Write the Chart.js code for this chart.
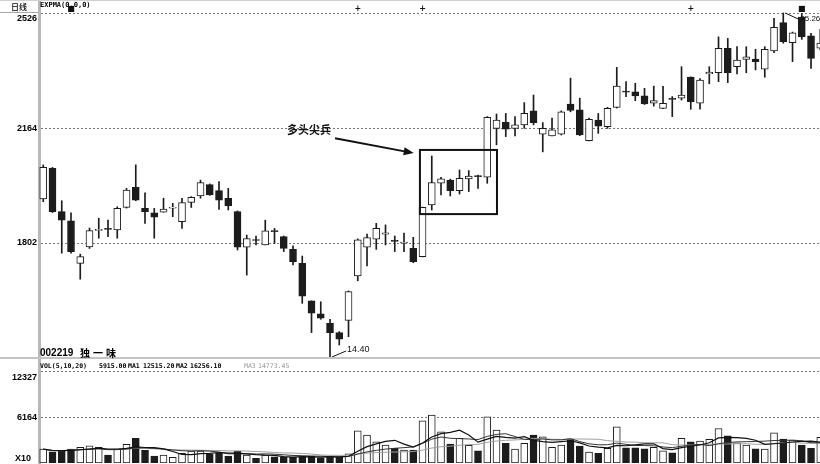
<!DOCTYPE html>
<html><head><meta charset="utf-8">
<script src="https://cdn.jsdelivr.net/npm/chart.js@4.4.1/dist/chart.umd.min.js"></script>
<style>
html,body{margin:0;padding:0;background:#fff;}
#wrap{position:relative;width:820px;height:464px;overflow:hidden;background:#fff;}
canvas{position:absolute;left:0;}
.t{position:absolute;white-space:nowrap;color:#000;line-height:1;}
.v{position:absolute;white-space:nowrap;color:#000;line-height:1;top:362px;font:bold 6.5px 'DejaVu Sans Mono';}
.ln{position:absolute;}
</style></head><body>
<div id="wrap">
<canvas id="price" width="820" height="358" style="top:0"></canvas>
<canvas id="vol" width="820" height="106" style="top:358px"></canvas>
<div class="ln" style="left:0;top:0;width:820px;height:1px;background:#d0d0d0"></div>
<div class="ln" style="left:0;top:12px;width:38px;height:1px;background:#a8a8a8"></div>
<div class="ln" style="left:0;top:357px;width:820px;height:2px;background:#c4c4c4"></div>
<div class="t" style="left:11px;top:1px;font:500 8px 'Noto Sans CJK SC'">日线</div>
<div class="t" style="left:40px;top:1px;font:bold 7px 'DejaVu Sans Mono'">EXPMA(0,0,0)</div>
<div class="t" style="left:40px;top:347px;font:bold 10px 'Liberation Sans'">002219</div>
<div class="t" style="left:80px;top:345px;font:bold 10px 'Noto Sans CJK SC';letter-spacing:3px">独一味</div>
<div class="v" style="left:40px">VOL(5,10,20)</div>
<div class="v" style="left:99px">5915.00</div>
<div class="v" style="left:128px">MA1</div>
<div class="v" style="left:143px">12515.20</div>
<div class="v" style="left:176px">MA2</div>
<div class="v" style="left:190px">16256.10</div>
<div class="v" style="left:244px;font-weight:normal;color:#999">MA3</div>
<div class="v" style="left:258px;font-weight:normal;color:#999">14773.45</div>
<div class="t" style="left:15px;top:453px;font:bold 9px 'Liberation Sans'">X10</div>
</div>
<script>
// ---- data (price in 1/100 units as on the axis) ----
const open = [1941,2037,1901,1872,1738,1790,1842,1848,1843,1914,
1977,1911,1897,1899,1912,1869,1930,1950,1986,1967,
1943,1901,1789,1813,1796,1841,1822,1782,1738,1620,
1579,1549,1520,1558,1698,1789,1814,1830,1810,1802,
1785,1759,1922,1990,2000,1967,2004,2014,2009,2163,
2182,2163,2174,2218,2145,2139,2145,2239,2221,2124,
2189,2168,2229,2279,2278,2265,2242,2226,2257,2258,
2324,2242,2334,2338,2415,2357,2380,2381,2349,2407,
2496,2433,2513,2454,2415];
const high = [2048,2040,1935,1897,1767,1849,1880,1874,1916,1974,
2048,1960,1911,1943,1927,1943,1948,2000,1988,1995,
1974,1903,1827,1824,1874,1848,1824,1793,1761,1620,
1617,1562,1523,1651,1815,1830,1864,1859,1824,1833,
1820,1915,2076,2009,2003,2032,2030,2016,2200,2208,
2210,2200,2244,2268,2181,2195,2218,2321,2258,2195,
2210,2229,2355,2310,2305,2289,2296,2295,2263,2357,
2325,2320,2357,2451,2446,2420,2420,2412,2420,2509,
2526,2466,2524,2462,2475];
const low = [1932,1898,1770,1770,1688,1785,1817,1822,1817,1912,
1935,1864,1817,1899,1885,1848,1914,1943,1952,1908,
1906,1780,1701,1796,1796,1801,1775,1733,1612,1520,
1562,1440,1481,1507,1683,1730,1782,1796,1775,1775,
1740,1758,1906,1953,1950,1956,1964,1974,1990,2111,
2137,2139,2163,2174,2089,2139,2142,2215,2140,2123,
2147,2163,2227,2263,2250,2238,2233,2225,2200,2252,
2223,2223,2303,2310,2307,2334,2338,2347,2324,2401,
2431,2373,2443,2352,2410];
const close = [2040,1901,1874,1775,1759,1841,1845,1845,1911,1969,
1937,1901,1883,1909,1914,1929,1946,1992,1953,1937,
1919,1789,1816,1810,1840,1838,1785,1743,1635,1581,
1565,1520,1499,1649,1812,1819,1848,1834,1807,1804,
1743,1914,1992,2004,1967,2006,2013,2011,2198,2189,
2160,2174,2210,2181,2163,2158,2215,2219,2142,2191,
2170,2226,2296,2277,2265,2240,2250,2242,2254,2268,
2247,2315,2340,2415,2338,2378,2388,2373,2412,2481,
2436,2464,2451,2383,2431];
// volume (x10)
const volume = [1879,1514,1609,1879,2109,2325,2109,1068,1879,2515,
3326,1704,933,1068,757,1298,1609,1609,1203,1379,
933,1609,1068,622,1068,838,757,757,838,933,
703,933,757,1244,4353,3772,2866,2420,1974,1744,
1744,5705,6476,4218,2555,3326,2380,1649,6246,4448,
2650,1879,2650,3772,3542,2109,2420,3231,2285,1474,
1298,1974,4894,2055,2055,1920,2109,1649,1379,3326,
2866,2961,3191,4678,3677,2731,2420,1920,1879,4083,
3231,3096,2420,1974,3461];
const priceTicks = [2526, 2164, 1802];
const priceTickLabels = ['2526', '2164', '1802'];
const volTicks = [12327, 6164];
const volTickLabels = ['12327', '6164'];
const maPeriods = [5, 10, 20];
const markIdx = [4, 35, 42, 71, 83];
const markSym = ['■', '+', '+', '+', '■'];

const days = open.map((_, i) => i + 1);
const isUp = close.map((c, i) => c >= open[i]);
function movingAvg(arr, n) {
  return arr.map((_, i) => {
    const s = arr.slice(Math.max(0, i - n + 1), i + 1);
    return s.reduce((a, b) => a + b, 0) / s.length;
  });
}

const DARK = '#1c1c1c';
const X_MIN = 0.54, X_MAX = 84.97;
const tickFont = {family: 'Liberation Sans', size: 9, weight: 'bold'};

const common = {
  responsive: false, animation: false, devicePixelRatio: 1, events: [],
  layout: {padding: 0},
  plugins: {legend: {display: false}, tooltip: {enabled: false}}
};
function fitY(s) { s.width = 39; s.paddingTop = 0; s.paddingBottom = 0; }

const annot = {
  id: 'annot',
  afterDatasetsDraw(chart) {
    const {ctx, scales: {x, y}} = chart;
    ctx.save();
    // box around the pattern
    const bx1 = x.getPixelForValue(41.72), bx2 = x.getPixelForValue(50.05);
    const by1 = y.getPixelForValue(2095), by2 = y.getPixelForValue(1893);
    ctx.strokeStyle = '#111'; ctx.lineWidth = 2;
    ctx.strokeRect(bx1, by1, bx2 - bx1, by2 - by1);
    // arrow
    const ax1 = x.getPixelForValue(32.54), ay1 = y.getPixelForValue(2132);
    const ax2 = x.getPixelForValue(41.05), ay2 = y.getPixelForValue(2085);
    const ang = Math.atan2(ay2 - ay1, ax2 - ax1);
    ctx.beginPath(); ctx.moveTo(ax1, ay1);
    ctx.lineTo(ax2 - 8 * Math.cos(ang), ay2 - 8 * Math.sin(ang)); ctx.stroke();
    ctx.fillStyle = '#111';
    ctx.beginPath(); ctx.moveTo(ax2, ay2);
    ctx.lineTo(ax2 - 10 * Math.cos(ang) + 4 * Math.sin(ang), ay2 - 10 * Math.sin(ang) - 4 * Math.cos(ang));
    ctx.lineTo(ax2 - 10 * Math.cos(ang) - 4 * Math.sin(ang), ay2 - 10 * Math.sin(ang) + 4 * Math.cos(ang));
    ctx.closePath(); ctx.fill();
    // label
    ctx.font = "bold 11px 'Noto Sans CJK SC'";
    ctx.textAlign = 'right'; ctx.textBaseline = 'middle';
    ctx.fillText('多头尖兵', x.getPixelForValue(32.1), y.getPixelForValue(2158));
    // low / high labels
    ctx.lineWidth = 1;
    const li = low.indexOf(Math.min(...low));
    const lx = x.getPixelForValue(days[li]), ly = y.getPixelForValue(low[li]);
    ctx.beginPath(); ctx.moveTo(lx + 2, ly - 1); ctx.lineTo(lx + 16, ly - 7); ctx.stroke();
    ctx.font = "9px 'Liberation Sans'"; ctx.textAlign = 'left';
    ctx.fillText((low[li] / 100).toFixed(2), lx + 17, ly - 8);
    const hi = high.indexOf(Math.max(...high));
    const hx = x.getPixelForValue(days[hi]), hy = y.getPixelForValue(high[hi]);
    ctx.beginPath(); ctx.moveTo(hx + 2, hy); ctx.lineTo(hx + 15, hy + 6); ctx.stroke();
    ctx.font = "8px 'Liberation Sans'";
    ctx.fillText((high[hi] / 100).toFixed(2), hx + 17, hy + 6);
    // signal marks on top
    ctx.font = "bold 8px 'DejaVu Sans'"; ctx.textAlign = 'center';
    markIdx.forEach((d, k) => ctx.fillText(markSym[k], x.getPixelForValue(d), 9));
    ctx.restore();
  }
};

new Chart(document.getElementById('price'), {
  type: 'bar',
  data: {
    datasets: [
      {type: 'bar', data: days.map((d, i) => ({x: d, y: [open[i], close[i]]})),
       backgroundColor: isUp.map(u => u ? '#ffffff' : DARK), borderColor: DARK, borderWidth: 1,
       borderSkipped: false, barThickness: 7, minBarLength: 1, grouped: false, order: 0},
      {type: 'bar', data: days.map((d, i) => ({x: d, y: [low[i], high[i]]})),
       backgroundColor: DARK, borderWidth: 0, barThickness: 1, grouped: false, order: 1}
    ]
  },
  options: Object.assign({}, common, {
    scales: {
      x: {type: 'linear', display: false, min: X_MIN, max: X_MAX, offset: false},
      y: {type: 'linear', min: 1440, max: 2567, beginAtZero: false,
          afterFit: fitY,
          afterBuildTicks(s) { s.ticks = priceTicks.map(v => ({value: v})); },
          ticks: {callback: (v, i) => i === 0 ? ['', priceTickLabels[0]] : priceTickLabels[i],
                  font: tickFont, color: '#000', padding: 2, autoSkip: false},
          grid: {color: '#777', lineWidth: 1, drawTicks: false},
          border: {display: true, color: '#b8b8b8', width: 3, dash: [2, 2]}}
    }
  }),
  plugins: [annot]
});

const maColors = ['#111', '#333', '#a0a0a0'];
const maWidths = [1.2, 1, 1];
new Chart(document.getElementById('vol'), {
  type: 'bar',
  data: {
    datasets: [
      {type: 'bar', data: days.map((d, i) => ({x: d, y: volume[i]})),
       backgroundColor: isUp.map(u => u ? '#ffffff' : DARK), borderColor: DARK, borderWidth: 1,
       borderSkipped: false, barThickness: 7, grouped: false, order: 1}
    ].concat(maPeriods.map((p, k) => ({
       type: 'line', data: movingAvg(volume, p).map((m, i) => ({x: days[i], y: m})),
       borderColor: maColors[k], borderWidth: maWidths[k], pointRadius: 0, tension: 0, order: 0})))
  },
  options: Object.assign({}, common, {
    layout: {padding: {bottom: 1}},
    scales: {
      x: {type: 'linear', display: false, min: X_MIN, max: X_MAX, offset: false},
      y: {type: 'linear', min: 0, max: 14223, beginAtZero: true,
          afterFit: fitY,
          afterBuildTicks(s) { s.ticks = volTicks.map(v => ({value: v})); },
          ticks: {callback: (v, i) => i === 0 ? ['', volTickLabels[0]] : volTickLabels[i],
                  font: tickFont, color: '#000', padding: 2, autoSkip: false},
          grid: {color: '#777', lineWidth: 1, drawTicks: false},
          border: {display: true, color: '#b8b8b8', width: 3, dash: [2, 2]}}
    }
  })
});
</script>
</body></html>
